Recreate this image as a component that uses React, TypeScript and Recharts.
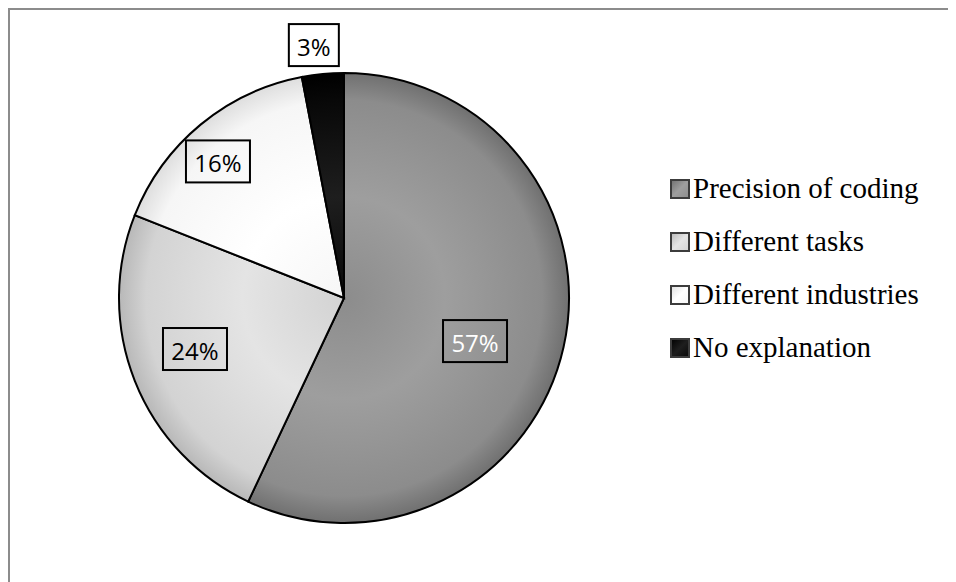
import { PieChart, Pie, Cell, Legend } from 'recharts';

const categories = ['Precision of coding', 'Different tasks', 'Different industries', 'No explanation'];
const shares = [57, 24, 16, 3];

const sliceColors = [
  { id: 'gPrecision', inner: '#9e9e9e', mid: '#8c8c8c', outer: '#707070', text: '#ffffff' },
  { id: 'gTasks', inner: '#e4e4e4', mid: '#d3d3d3', outer: '#b8b8b8', text: '#000000' },
  { id: 'gIndustries', inner: '#ffffff', mid: '#f6f6f6', outer: '#dedede', text: '#000000' },
  { id: 'gNone', inner: '#1e1e1e', mid: '#080808', outer: '#000000', text: '#000000' },
];

// label box placement: share of the radius and a small nudge off the mid angle
const labelRadius = [0.613, 0.7, 0.826, 1.132];
const labelAngleShift = [-5.6, -2.7, 3.1, 1.4];

const data = categories.map((name, i) => ({ name, value: shares[i] }));

const CX = 336;
const CY = 290;
const R = 225;
const RAD = Math.PI / 180;

const renderLabel = (props: any) => {
  const { cx, cy, midAngle, outerRadius, index, value } = props;
  const r = outerRadius * labelRadius[index];
  const a = (midAngle + labelAngleShift[index]) * RAD;
  const x = cx + r * Math.cos(-a);
  const y = cy + r * Math.sin(-a);
  const text = `${value}%`;
  const w = 22 + 14 * text.length;
  const h = 42;
  return (
    <g>
      <rect x={x - w / 2} y={y - h / 2} width={w} height={h} fill="none" stroke="#000" strokeWidth={2} />
      <text
        x={x}
        y={y + 1}
        textAnchor="middle"
        dominantBaseline="central"
        fill={sliceColors[index].text}
        style={{ fontFamily: '"Open Sans", sans-serif', fontSize: 24 }}
      >
        {text}
      </text>
    </g>
  );
};

const LegendContent = () => (
  <div style={{ fontFamily: '"Liberation Serif", serif', fontSize: 29, color: '#000' }}>
    {categories.map((name, i) => (
      <div key={name} style={{ display: 'flex', alignItems: 'center', height: 53, whiteSpace: 'nowrap' }}>
        <svg width={20} height={20} style={{ marginRight: 3 }}>
          <defs>
            <linearGradient id={`lg${i}`} x1="0" y1="0" x2="1" y2="1">
              <stop offset="0%" stopColor={sliceColors[i].outer} />
              <stop offset="50%" stopColor={sliceColors[i].inner} />
              <stop offset="100%" stopColor={sliceColors[i].mid} />
            </linearGradient>
          </defs>
          <rect x={1} y={1} width={18} height={18} fill={`url(#lg${i})`} stroke="#3c3c3c" strokeWidth={2} />
        </svg>
        <span>{name}</span>
      </div>
    ))}
  </div>
);

export default function App() {
  return (
    <div style={{ position: 'relative', width: 948, height: 574 }}>
      <div
        style={{
          position: 'absolute',
          left: 0,
          top: 0,
          width: 960,
          height: 600,
          borderTop: '2px solid #8c8c8c',
          borderLeft: '2px solid #8c8c8c',
          boxSizing: 'border-box',
        }}
      />
      <div style={{ position: 'absolute', left: 0, top: 0 }}>
        <PieChart width={948} height={574} margin={{ top: 0, right: 0, bottom: 0, left: 0 }}>
          <defs>
            {sliceColors.map((c) => (
              <radialGradient key={c.id} id={c.id} gradientUnits="userSpaceOnUse" cx={CX} cy={CY} r={R}>
                <stop offset="0%" stopColor={c.mid} />
                <stop offset="45%" stopColor={c.inner} />
                <stop offset="88%" stopColor={c.mid} />
                <stop offset="100%" stopColor={c.outer} />
              </radialGradient>
            ))}
          </defs>
          <Pie
            data={data}
            dataKey="value"
            nameKey="name"
            cx={CX}
            cy={CY}
            outerRadius={R}
            startAngle={90}
            endAngle={-270}
            stroke="#000"
            strokeWidth={2}
            label={renderLabel}
            labelLine={false}
            isAnimationActive={false}
          >
            {data.map((d, i) => (
              <Cell key={d.name} fill={`url(#${sliceColors[i].id})`} />
            ))}
          </Pie>
          <Legend
            layout="vertical"
            align="right"
            verticalAlign="middle"
            content={<LegendContent />}
            wrapperStyle={{ position: 'absolute', left: 662, top: 154, width: 280, right: 'auto' }}
          />
        </PieChart>
      </div>
    </div>
  );
}
